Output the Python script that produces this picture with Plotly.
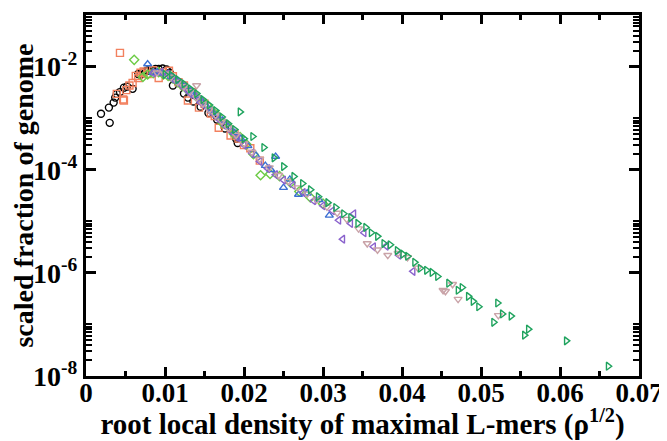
import plotly.graph_objects as go

# ---- data ----
black_x = [0.0019,0.0029,0.0030,0.0035,0.0037,0.0039,0.0043,0.0048,0.0052,0.0059,0.0066,0.0069,0.0072,0.0076,0.0078,0.0083,0.0088,0.0092,0.0097,0.0102,0.0106,0.0110,0.0116,0.0124,0.0129,0.0136,0.0145,0.0155,0.0166,0.0176,0.0190,0.0192]
black_y = [1.22e-3,1.6e-3,8.1e-4,2.0e-3,2.5e-3,2.95e-3,3.2e-3,3.9e-3,4.1e-3,3.7e-3,7.2e-3,6.9e-3,7.6e-3,8.1e-3,8.4e-3,8.6e-3,9.0e-3,9.0e-3,9.2e-3,8.8e-3,7.6e-3,4.3e-3,5.0e-3,3.0e-3,2.5e-3,2.1e-3,1.66e-3,1.26e-3,9.3e-4,6.3e-4,4.0e-4,3.3e-4]

orange_x = [0.0039,0.0043,0.0047,0.0048,0.0051,0.0055,0.0059,0.0063,0.0066,0.0069,0.0073,0.0078,0.0085,0.0092,0.0097,0.0105,0.0110,0.0117,0.0124,0.0129,0.0135,0.0143,0.0150,0.0158,0.0163,0.0168,0.0175,0.0183,0.0188,0.0193,0.0200,0.0208,0.0220]
orange_y = [2.95e-3,1.84e-2,2.3e-3,2.2e-3,3.5e-3,4.3e-3,4.8e-3,6.6e-3,6.0e-3,7.6e-3,8.0e-3,7.2e-3,8.5e-3,6.0e-3,7.8e-3,8.3e-3,6.5e-3,5.0e-3,4.3e-3,2.2e-3,3.2e-3,1.6e-3,1.9e-3,1.23e-3,1.1e-3,6.5e-4,7.5e-4,4.6e-4,5.0e-4,4.0e-4,3.0e-4,2.6e-4,1.5e-4]

lgreen_x = [0.0061,0.0072,0.0078,0.0085,0.0092,0.0098,0.0104,0.0110,0.0116,0.0122,0.0128,0.0134,0.0140,0.0147,0.0153,0.0160,0.0166,0.0173,0.0180,0.0187,0.0195,0.0203,0.0212,0.0221,0.0233,0.0245,0.0259,0.0270,0.0284,0.0300]
lgreen_y = [1.35e-2,6.3e-3,7.0e-3,7.4e-3,7.8e-3,7.0e-3,6.6e-3,5.9e-3,5.0e-3,4.2e-3,3.6e-3,3.1e-3,2.6e-3,2.1e-3,1.8e-3,1.35e-3,1.15e-3,8.0e-4,6.9e-4,5.0e-4,4.3e-4,3.1e-4,2.0e-4,7.8e-5,8.3e-5,7.5e-5,5.6e-5,3.8e-5,2.9e-5,2.2e-5]

blue_x = [0.0078,0.0085,0.0090,0.0096,0.0102,0.0108,0.0114,0.0120,0.0126,0.0132,0.0138,0.0145,0.0152,0.0159,0.0166,0.0173,0.0180,0.0188,0.0196,0.0205,0.0215,0.0227,0.0234,0.0240,0.0250,0.0258,0.0269,0.0280,0.0295,0.0308]
blue_y = [1.12e-2,7.6e-3,7.9e-3,7.4e-3,7.0e-3,6.4e-3,5.5e-3,4.7e-3,4.0e-3,3.3e-3,2.7e-3,2.3e-3,1.75e-3,1.4e-3,1.1e-3,9.0e-4,6.8e-4,5.2e-4,4.0e-4,2.9e-4,1.9e-4,1.2e-4,1.0e-4,1.8e-4,4.5e-5,6.5e-5,3.3e-5,3.5e-5,2.6e-5,1.3e-5]

purple_x = [0.0085,0.0095,0.0103,0.0110,0.0117,0.0124,0.0131,0.0138,0.0145,0.0152,0.0160,0.0168,0.0176,0.0184,0.0192,0.0200,0.0210,0.0220,0.0230,0.0240,0.0250,0.0262,0.0275,0.0288,0.0300,0.0312,0.0320,0.0325,0.0335,0.0339,0.0352,0.0364,0.0380,0.0396,0.0414]
purple_y = [7.5e-3,7.8e-3,7.2e-3,5.7e-3,4.8e-3,3.9e-3,3.1e-3,2.6e-3,2.0e-3,1.65e-3,1.25e-3,9.5e-4,7.2e-4,5.5e-4,4.2e-4,3.0e-4,2.1e-4,1.45e-4,1.05e-4,8.0e-5,6.3e-5,5.0e-5,3.6e-5,2.5e-5,2.0e-5,1.6e-5,1.05e-5,4.5e-6,9.1e-6,1.4e-5,6.0e-6,3.2e-6,3.3e-6,2.2e-6,1.07e-6]

pink_x = [0.0090,0.0100,0.0108,0.0116,0.0124,0.0132,0.0140,0.0140,0.0148,0.0156,0.0164,0.0172,0.0180,0.0190,0.0200,0.0210,0.0220,0.0232,0.0244,0.0256,0.0268,0.0280,0.0292,0.0305,0.0318,0.0330,0.0345,0.0356,0.0369,0.0382,0.0395,0.0407,0.0420,0.0452,0.0455,0.0464,0.0471,0.0522]
pink_y = [7.6e-3,7.2e-3,6.3e-3,5.0e-3,4.1e-3,3.3e-3,2.5e-3,4.3e-3,1.9e-3,1.45e-3,1.15e-3,8.8e-4,6.5e-4,4.7e-4,3.2e-4,2.2e-4,1.6e-4,1.1e-4,7.8e-5,6.0e-5,4.5e-5,3.4e-5,2.6e-5,1.9e-5,1.45e-5,1.1e-5,7.2e-6,3.7e-6,2.8e-6,2.2e-6,2.4e-6,2.0e-6,1.25e-6,4.6e-7,4.4e-7,6.0e-7,3.1e-7,1.5e-7]

dgreen_x = [0.0100,0.0108,0.0116,0.0124,0.0132,0.0140,0.0148,0.0156,0.0164,0.0172,0.0180,0.0188,0.0195,0.0200,0.0211,0.0225,0.0238,0.0250,0.0263,0.0274,0.0284,0.0294,0.0306,0.0316,0.0326,0.0335,0.0344,0.0354,0.0361,0.0369,0.0377,0.0385,0.0394,0.0401,0.0407,0.0416,0.0423,0.0431,0.0438,0.0445,0.0459,0.0471,0.0476,0.0484,0.0490,0.0497,0.0521,0.0516,0.0527,0.0538,0.0555,0.0560,0.0608,0.0661]
dgreen_y = [7.0e-3,6.8e-3,5.6e-3,4.6e-3,3.7e-3,3.0e-3,2.3e-3,1.8e-3,1.4e-3,1.05e-3,7.8e-4,6.0e-4,1.32e-3,4.0e-4,4.4e-4,2.7e-4,1.7e-4,1.15e-4,7.4e-5,5.4e-5,4.1e-5,3.0e-5,2.3e-5,1.85e-5,1.4e-5,1.18e-5,9.1e-6,7.6e-6,6.0e-6,5.1e-6,3.7e-6,3.5e-6,2.7e-6,2.3e-6,2.1e-6,1.6e-6,1.23e-6,1.12e-6,1.02e-6,8.5e-7,6.3e-7,4.6e-7,5.2e-7,3.5e-7,2.8e-7,2.2e-7,2.6e-7,1.1e-7,1.6e-7,1.45e-7,6.2e-8,8.1e-8,4.8e-8,1.55e-8]

x_ticks = [0, 0.01, 0.02, 0.03, 0.04, 0.05, 0.06, 0.07]
x_ticktext = ["0", "0.01", "0.02", "0.03", "0.04", "0.05", "0.06", "0.07"]
x_minor = [0.005, 0.015, 0.025, 0.035, 0.045, 0.055, 0.065]
y_ticks = [1e-8, 1e-6, 1e-4, 1e-2]
y_ticktext = ["10<sup>-8</sup>", "10<sup>-6</sup>", "10<sup>-4</sup>", "10<sup>-2</sup>"]
y_minor = [k * 10.0**e for e in (-8, -6, -4, -2) for k in (2, 3, 4, 5, 6, 7, 8, 9, 10)]

series = [
    (black_x, black_y, "circle-open", "#000000"),
    (orange_x, orange_y, "square-open", "#F2805E"),
    (lgreen_x, lgreen_y, "diamond-open", "#6CCB45"),
    (blue_x, blue_y, "triangle-up-open", "#3B6FD2"),
    (purple_x, purple_y, "triangle-left-open", "#8A62CC"),
    (pink_x, pink_y, "triangle-down-open", "#C9A3A8"),
    (dgreen_x, dgreen_y, "triangle-right-open", "#1FA35E"),
]

fig = go.Figure()
for xs, ys, sym, col in series:
    fig.add_trace(go.Scatter(x=xs, y=ys, mode="markers",
                             marker=dict(symbol=sym, size=7, color=col,
                                         line=dict(width=1.4, color=col)),
                             showlegend=False))

font_fam = "Liberation Serif"
# the page body has a default margin, so the figure is shifted slightly
fig.update_layout(
    width=659, height=433,
    margin=dict(l=78, r=28, t=7, b=65),
    paper_bgcolor="white", plot_bgcolor="white",
)
fig.update_xaxes(
    range=[0, 0.07], tickmode="array", tickvals=x_ticks, ticktext=x_ticktext,
    ticks="inside", ticklen=9, tickwidth=2.5, tickcolor="black",
    showline=True, linewidth=3, linecolor="black", mirror="ticks",
    showgrid=False, zeroline=False,
    tickfont=dict(family=font_fam, size=27, color="black", weight="bold"),
    ticklabelstandoff=-9,
    minor=dict(tickmode="array", tickvals=x_minor, ticks="inside", ticklen=5,
               tickwidth=2.5, tickcolor="black", showgrid=False),
    title=dict(text="root local density of maximal L-mers (ρ<sup>1/2</sup>)",
               font=dict(family=font_fam, size=29, color="black", weight="bold"),
               standoff=4),
    automargin=False,
)
fig.update_yaxes(
    type="log", range=[-8, -1], tickmode="array", tickvals=y_ticks, ticktext=y_ticktext,
    ticks="inside", ticklen=10, tickwidth=2.5, tickcolor="black",
    showline=True, linewidth=3, linecolor="black", mirror="ticks",
    showgrid=False, zeroline=False,
    tickfont=dict(family=font_fam, size=28, color="black", weight="bold"),
    minor=dict(tickmode="array", tickvals=y_minor, ticks="inside", ticklen=6,
               tickwidth=2, tickcolor="black", showgrid=False),
    title=dict(text="scaled fraction of genome",
               font=dict(family=font_fam, size=28, color="black", weight="bold"),
               standoff=2),
    automargin=False,
)
fig.write_html("out.html")
